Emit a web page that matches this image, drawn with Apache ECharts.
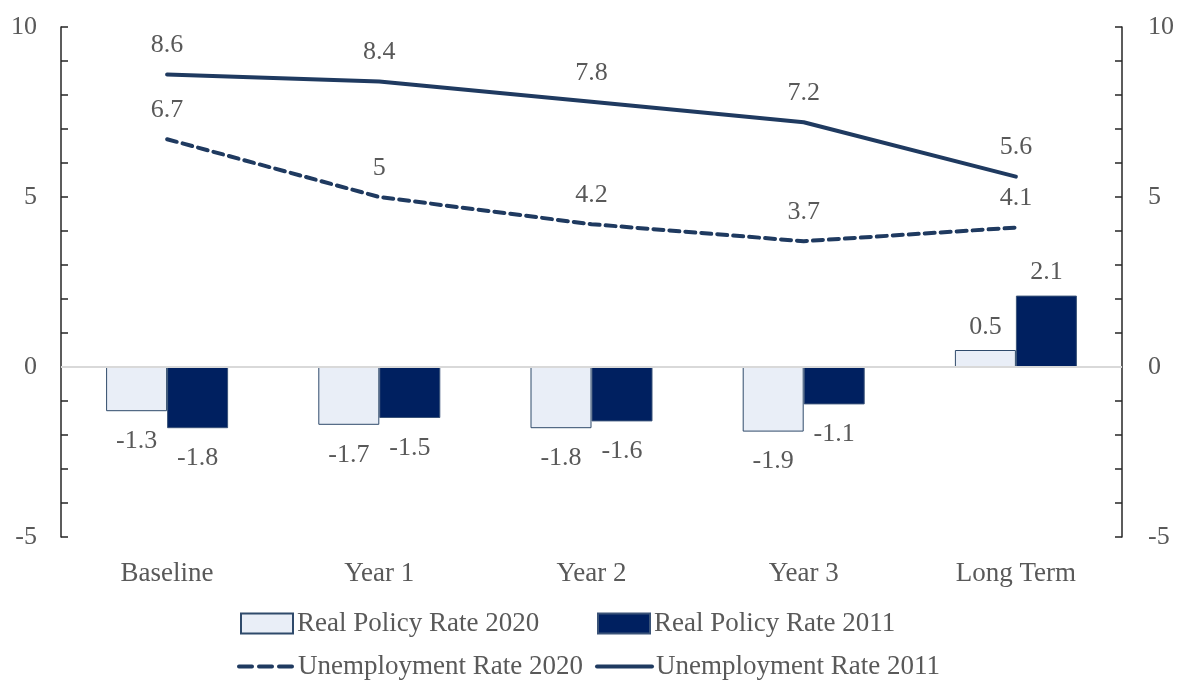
<!DOCTYPE html>
<html>
<head>
<meta charset="utf-8">
<script src="https://cdn.jsdelivr.net/npm/echarts@6/dist/echarts.min.js"></script>
<style>html,body{margin:0;padding:0;background:#fff}#c{width:1180px;height:681px}</style>
</head>
<body>
<div id="c"></div>
<script>
const categories = ['Baseline', 'Year 1', 'Year 2', 'Year 3', 'Long Term'];
const realPolicy2020 = [-1.3, -1.7, -1.8, -1.9, 0.5];
const realPolicy2011 = [-1.8, -1.5, -1.6, -1.1, 2.1];
const unemp2020 = [6.7, 5, 4.2, 3.7, 4.1];
const unemp2011 = [8.6, 8.4, 7.8, 7.2, 5.6];
const axisTicks = [-5, 0, 5, 10];

const FONT = 'Liberation Serif';
const TXT = '#595959';
const LINE = '#1f3a60';

function barData(arr) {
  return arr.map(v => ({ value: v, label: v < 0 ? { position: 'bottom', distance: 17 } : { position: 'top', distance: 10 } }));
}
function yAxisCfg(pos, margin) {
  return {
    type: 'value', position: pos, min: -5, max: 10, interval: 1,
    axisLine: { show: true, lineStyle: { color: '#262626', width: 1.5 } },
    axisTick: { show: true, inside: true, length: 7, lineStyle: { color: '#262626', width: 1.5 } },
    splitLine: { show: false },
    axisLabel: {
      margin: margin, color: TXT, fontFamily: FONT, fontSize: 26,
      formatter: v => axisTicks.indexOf(v) >= 0 ? String(v) : ''
    }
  };
}
const labelStyle = { show: true, color: TXT, fontFamily: FONT, fontSize: 26 };
const legendBase = { orient: 'horizontal', itemGap: 0, padding: 0, textStyle: { color: TXT, fontFamily: FONT, fontSize: 27, padding: [0, 0, 0, -1] } };

const chart = echarts.init(document.getElementById('c'), null, { renderer: 'canvas' });
chart.setOption({
  animation: false,
  backgroundColor: '#fff',
  grid: { left: 61, right: 58, top: 27, bottom: 144, containLabel: false },
  legend: [
    Object.assign({}, legendBase, { left: 240, top: 610, itemWidth: 52, itemHeight: 20, icon: 'rect', data: ['Real Policy Rate 2020'] }),
    Object.assign({}, legendBase, { left: 597, top: 610, itemWidth: 52, itemHeight: 20, icon: 'rect', data: ['Real Policy Rate 2011'] }),
    Object.assign({}, legendBase, { left: 237, top: 653, itemWidth: 55, itemHeight: 20,
      data: [{ name: 'Unemployment Rate 2020', itemStyle: { opacity: 0 }, lineStyle: { width: 4, type: [13, 7], cap: 'round', color: LINE } }] }),
    Object.assign({}, legendBase, { left: 595, top: 653, itemWidth: 55, itemHeight: 20,
      data: [{ name: 'Unemployment Rate 2011', itemStyle: { opacity: 0 }, lineStyle: { width: 4, type: 'solid', color: LINE } }] })
  ],
  xAxis: {
    type: 'category', data: categories, boundaryGap: true,
    axisLine: { show: false }, axisTick: { show: false },
    axisLabel: { margin: 23, color: TXT, fontFamily: FONT, fontSize: 27 }
  },
  yAxis: [yAxisCfg('left', 24), yAxisCfg('right', 26)],
  series: [
    {
      name: 'Real Policy Rate 2020', type: 'bar', data: barData(realPolicy2020),
      barWidth: 61, barGap: '0%',
      itemStyle: { color: '#e9eef7', borderColor: '#2f4a6b', borderWidth: 1 },
      label: labelStyle,
      markLine: {
        silent: true, symbol: 'none', label: { show: false },
        lineStyle: { color: '#d9d9d9', width: 2, type: 'solid' },
        data: [{ yAxis: 0 }]
      },
      z: 2
    },
    {
      name: 'Real Policy Rate 2011', type: 'bar', data: barData(realPolicy2011),
      barWidth: 61, barGap: '0%',
      itemStyle: { color: '#002060', borderColor: '#3a5378', borderWidth: 1 },
      label: labelStyle,
      z: 2
    },
    {
      name: 'Unemployment Rate 2020', type: 'line', yAxisIndex: 1, data: unemp2020,
      symbol: 'circle', symbolSize: 0, showSymbol: true,
      lineStyle: { color: LINE, width: 4, type: [10, 6], cap: 'round' },
      itemStyle: { color: LINE },
      label: Object.assign({}, labelStyle, { position: 'top', distance: 16 }),
      z: 5
    },
    {
      name: 'Unemployment Rate 2011', type: 'line', yAxisIndex: 1, data: unemp2011,
      symbol: 'circle', symbolSize: 0, showSymbol: true,
      lineStyle: { color: LINE, width: 4, type: 'solid', cap: 'round' },
      itemStyle: { color: LINE },
      label: Object.assign({}, labelStyle, { position: 'top', distance: 16 }),
      z: 5
    }
  ]
});
</script>
</body>
</html>
